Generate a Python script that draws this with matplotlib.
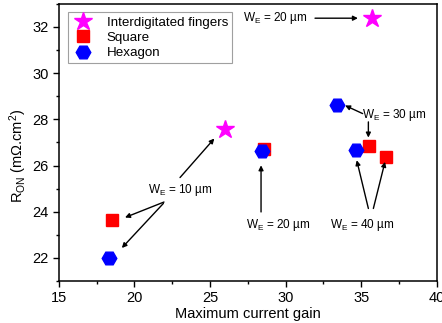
import matplotlib
matplotlib.use("Agg")
import matplotlib.pyplot as plt
from matplotlib.ticker import MultipleLocator

plt.rcParams['font.family'] = ['Liberation Sans', 'DejaVu Sans']
plt.rcParams['mathtext.fontset'] = 'custom'
plt.rcParams['mathtext.rm'] = 'Liberation Sans'
plt.rcParams['mathtext.it'] = 'Liberation Sans:italic'

# Data
fingers_gain = [26.0, 35.7]
fingers_ron = [27.6, 32.4]
square_gain = [18.5, 28.6, 35.5, 36.65]
square_ron = [23.63, 26.7, 26.84, 26.35]
hexagon_gain = [18.3, 28.47, 33.43, 34.66]
hexagon_ron = [22.0, 26.62, 28.62, 26.69]

fig = plt.figure(figsize=(4.42, 3.23), dpi=100)
ax = fig.add_axes([0.133, 0.13, 0.855, 0.858])

ax.plot(fingers_gain, fingers_ron, linestyle='none', marker='*', ms=13.5,
        color='#FF00FF', mec='#FF00FF', label='Interdigitated fingers', zorder=3)
ax.plot(square_gain, square_ron, linestyle='none', marker='s', ms=9,
        color='#FF0000', mec='#FF0000', label='Square', zorder=3)
ax.plot(hexagon_gain, hexagon_ron, linestyle='none', marker='H', ms=10.5,
        color='#0000FF', mec='#0000FF', label='Hexagon', zorder=4)

ax.set_xlim(15, 40)
ax.set_ylim(21, 33)
ax.xaxis.set_major_locator(MultipleLocator(5))
ax.xaxis.set_minor_locator(MultipleLocator(2.5))
ax.yaxis.set_major_locator(MultipleLocator(2))
ax.yaxis.set_minor_locator(MultipleLocator(1))
ax.tick_params(axis='both', which='major', direction='out', length=4, width=1, labelsize=10.5)
ax.tick_params(axis='both', which='minor', direction='out', length=2.5, width=1)
for s in ax.spines.values():
    s.set_linewidth(1.1)

ax.set_xlabel('Maximum current gain', fontsize=10.5, labelpad=1)
ax.set_ylabel(r'R$_{\mathregular{ON}}$ (m$\mathregular{\Omega}$.cm$^{\mathregular{2}}$)', fontsize=10.5)
ax.yaxis.set_label_coords(-0.08, 0.45)

leg = ax.legend(loc='upper left', bbox_to_anchor=(0.025, 0.969), fontsize=9.6,
                frameon=True, fancybox=False, edgecolor='#888888',
                handletextpad=1.0, borderpad=0.3, labelspacing=0.22,
                handlelength=1.6, borderaxespad=0)
leg.get_frame().set_linewidth(0.8)

WE = r'W$_{\mathregular{E}}$'
fs = 8.5
ap = dict(arrowstyle='-|>', color='black', lw=1.0, mutation_scale=7, shrinkA=0, shrinkB=0)

# top: W_E = 20 um (fingers)
ax.text(27.19, 32.38, WE + ' = 20 µm', fontsize=fs, va='center', ha='left')
ax.annotate('', xy=(34.79, 32.38), xytext=(31.95, 32.38), arrowprops=ap)

# W_E = 30 um
ax.text(35.04, 28.17, WE + ' = 30 µm', fontsize=fs, va='center', ha='left')
ax.annotate('', xy=(33.94, 28.6), xytext=(35.1, 28.25), arrowprops=ap)
ax.annotate('', xy=(35.48, 27.21), xytext=(35.48, 27.89), arrowprops=ap)

# W_E = 10 um
ax.text(20.93, 24.96, WE + ' = 10 µm', fontsize=fs, va='center', ha='left')
ax.annotate('', xy=(25.29, 27.17), xytext=(23.02, 25.48), arrowprops=ap)
ax.annotate('', xy=(19.38, 23.75), xytext=(21.96, 24.42), arrowprops=ap)
ax.annotate('', xy=(19.17, 22.43), xytext=(21.92, 24.36), arrowprops=ap)

# W_E = 20 um (bottom)
ax.text(27.39, 23.42, WE + ' = 20 µm', fontsize=fs, va='center', ha='left')
ax.annotate('', xy=(28.38, 26.01), xytext=(28.38, 23.99), arrowprops=ap)

# W_E = 40 um
ax.text(32.94, 23.42, WE + ' = 40 µm', fontsize=fs, va='center', ha='left')
ax.annotate('', xy=(34.71, 26.23), xytext=(35.48, 24.14), arrowprops=ap)
ax.annotate('', xy=(36.58, 26.16), xytext=(35.81, 24.14), arrowprops=ap)

fig.savefig('out.png', dpi=100)
